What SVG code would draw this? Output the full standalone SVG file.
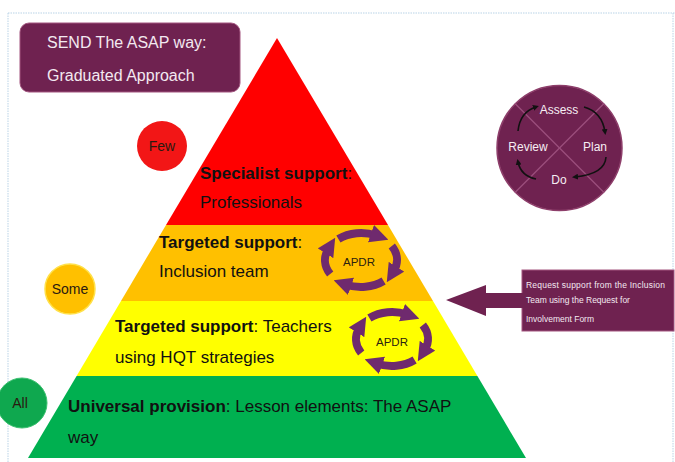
<svg xmlns="http://www.w3.org/2000/svg" xmlns:xlink="http://www.w3.org/1999/xlink" width="675" height="462" viewBox="0 0 675 462">
<style>
  .t { font-family: "Liberation Sans", Arial, sans-serif; }
  .pyr { font-size: 17px; fill: #111; }
  .b { font-weight: bold; }
  .light { fill: #f3e9f0; }
  .lbl { font-size: 14px; fill: #2a1a10; text-anchor: middle; }
  .cyc { font-size: 12px; fill: #f6eef3; text-anchor: middle; }
  .apdr { font-size: 11.5px; fill: #2b2210; text-anchor: middle; }
  .plum { fill: #6f2250; }
  .ring { fill: none; stroke: #6f2a6e; stroke-width: 8; marker-end: url(#bigHead); }
  .carrow { fill: none; stroke: #111; stroke-width: 1.6; marker-end: url(#smallHead); }
</style>
<defs>
  <marker id="bigHead" viewBox="0 0 10 10" refX="3" refY="5" markerWidth="2.3" markerHeight="2.3" orient="auto" markerUnits="strokeWidth">
    <path d="M0,0 L10,5 L0,10 z" fill="#6f2a6e"/>
  </marker>
  <marker id="smallHead" viewBox="0 0 10 10" refX="5" refY="5" markerWidth="6" markerHeight="6" orient="auto" markerUnits="userSpaceOnUse">
    <path d="M0,0 L10,5 L0,10 z" fill="#111"/>
  </marker>
  <g id="apdrRing">
    <path class="ring" d="M-22.6,-21 A36,27 0 0 1 15.2,-24.5"/>
    <path class="ring" d="M30.8,-14 A36,27 0 0 1 32.6,11.4"/>
    <path class="ring" d="M22.6,21 A36,27 0 0 1 -15.2,24.5"/>
    <path class="ring" d="M-30.8,14 A36,27 0 0 1 -32.6,-11.4"/>
  </g>
</defs>

<rect width="675" height="462" fill="#ffffff"/>
<g id="frame" fill="none" stroke="#b9d3e6" stroke-width="1" stroke-dasharray="1.5,1">
  <line x1="8" y1="13" x2="675" y2="13"/>
  <line x1="8" y1="13" x2="8" y2="462"/>
  <line x1="673" y1="13" x2="673" y2="462"/>
</g>

<g id="title">
  <rect x="20" y="23" width="220" height="69" rx="9" class="plum" stroke="#a3557f" stroke-width="1"/>
  <text class="t light" x="47" y="48" font-size="16">SEND The ASAP way:</text>
  <text class="t light" x="47" y="81" font-size="16">Graduated Approach</text>
</g>

<g id="specialist">
  <polygon points="277,38 388,225 166,225" fill="#ff0000"/>
  <text class="t pyr" x="200" y="179"><tspan class="b">Specialist support</tspan>:</text>
  <text class="t pyr" x="200" y="208">Professionals</text>
</g>

<g id="targeted-inclusion">
  <polygon points="166,225 388,225 433,301 121,301" fill="#ffc000"/>
  <text class="t pyr" x="159" y="248"><tspan class="b">Targeted support</tspan>:</text>
  <text class="t pyr" x="159" y="277">Inclusion team</text>
</g>

<g id="targeted-teachers">
  <polygon points="121,301 433,301 477.4,376 76.6,376" fill="#ffff00"/>
  <text class="t pyr" x="115" y="332"><tspan class="b">Targeted support</tspan>: Teachers</text>
  <text class="t pyr" x="115" y="363">using HQT strategies</text>
</g>

<g id="universal">
  <polygon points="76.6,376 477.4,376 526,458 28,458" fill="#00b050"/>
  <text class="t pyr" x="68" y="412"><tspan class="b">Universal provision</tspan>: Lesson elements: The ASAP</text>
  <text class="t pyr" x="68" y="443">way</text>
</g>

<g id="few">
  <circle cx="162" cy="146" r="25" fill="#f21616"/>
  <text class="t lbl" x="162" y="151">Few</text>
</g>

<g id="some">
  <circle cx="70" cy="289" r="25" fill="#ffc000" stroke="#ffe14a" stroke-width="1.5"/>
  <text class="t lbl" x="70" y="294">Some</text>
</g>

<g id="all">
  <circle cx="22" cy="403" r="25" fill="#0fa84f" stroke="#3cc070" stroke-width="1"/>
  <text class="t lbl" x="20" y="408" font-size="15">All</text>
</g>

<g id="apdr-inclusion">
  <use xlink:href="#apdrRing" href="#apdrRing" transform="translate(361,260)"/>
  <text class="t apdr" x="359" y="266">APDR</text>
</g>

<g id="apdr-teachers">
  <use xlink:href="#apdrRing" href="#apdrRing" transform="translate(392,339)"/>
  <text class="t apdr" x="392" y="346">APDR</text>
</g>

<g id="cycle">
  <circle cx="559.5" cy="148" r="62.5" class="plum" stroke="#8d3e6a" stroke-width="1.5"/>
  <line x1="515" y1="103.5" x2="604" y2="192.5" stroke="#9b4f7d" stroke-width="1.2"/>
  <line x1="604" y1="103.5" x2="515" y2="192.5" stroke="#9b4f7d" stroke-width="1.2"/>
  <rect x="536" y="101" width="46" height="15" class="plum"/>
  <rect x="508" y="138" width="40" height="16" class="plum"/>
  <rect x="580" y="138" width="30" height="16" class="plum"/>
  <rect x="547" y="171" width="24" height="16" class="plum"/>
  <text class="t cyc" x="559" y="114">Assess</text>
  <text class="t cyc" x="595" y="151">Plan</text>
  <text class="t cyc" x="528" y="151">Review</text>
  <text class="t cyc" x="559" y="184">Do</text>
  <path class="carrow" d="M584,107 Q602,112 605,132"/>
  <path class="carrow" d="M606,157 Q605,174 575,177"/>
  <path class="carrow" d="M536,179 Q521,176 518,162"/>
  <path class="carrow" d="M518,131 Q520,112 536,107"/>
</g>

<g id="request">
  <rect x="522" y="270" width="152" height="61" class="plum" stroke="#a3557f" stroke-width="1"/>
  <text class="t light" x="526" y="288" font-size="8.5" textLength="139">Request support from the Inclusion</text>
  <text class="t light" x="526" y="303" font-size="8.5">Team using the Request for</text>
  <text class="t light" x="526" y="322" font-size="8.5">Involvement Form</text>
</g>

<g id="connectors">
  <polygon points="446,300 486,285 486,293 523,293 523,308 486,308 486,316" class="plum"/>
</g>
</svg>
